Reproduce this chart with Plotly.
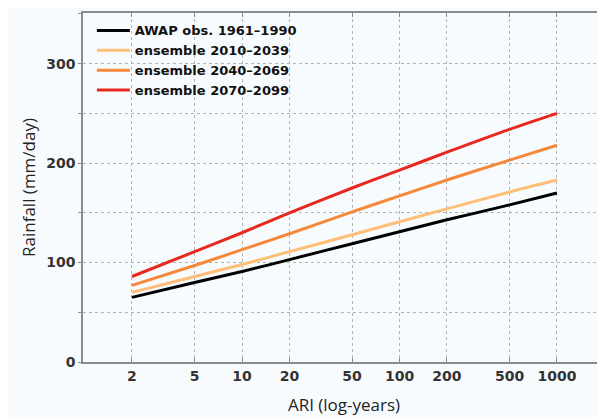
import plotly.graph_objects as go

ari = [2, 5, 10, 20, 50, 100, 200, 500, 1000]
awap_obs = [65, 80, 91, 103, 119, 131, 143, 158, 170]
ens_2010_2039 = [70, 86, 98, 111, 128, 141, 154, 171, 183]
ens_2040_2069 = [77, 97, 113, 129, 151, 167, 183, 203, 218]
ens_2070_2099 = [86, 111, 130, 150, 175, 193, 211, 234, 250]

series_names = ["AWAP obs. 1961\u20131990", "ensemble 2010\u20132039",
                "ensemble 2040\u20132069", "ensemble 2070\u20132099"]
series_values = [awap_obs, ens_2010_2039, ens_2040_2069, ens_2070_2099]
series_colors = ["#000000", "#fdbf78", "#f4883b", "#e8281e"]

x_ticks = [2, 5, 10, 20, 50, 100, 200, 500, 1000]
y_ticks = [0, 100, 200, 300]

fig = go.Figure()
for name, vals, col in zip(series_names, series_values, series_colors):
    fig.add_trace(go.Scatter(x=ari, y=vals, mode="lines", name=name,
                             line=dict(color=col, width=3, shape="spline", smoothing=0.8)))

bg = "#f8fbfd"
fnt = "DejaVu Sans, sans-serif"
fig.update_layout(
    width=605, height=417,
    margin=dict(l=75, r=8, t=5, b=63, autoexpand=False),
    paper_bgcolor=bg, plot_bgcolor=bg,
    font=dict(family=fnt, color="#222222"),
    showlegend=True,
    legend=dict(x=0.017, y=0.993, xanchor="left", yanchor="top",
                bgcolor="rgba(0,0,0,0)",
                font=dict(size=13, color="#111111", family=fnt, weight="bold"),
                tracegroupgap=0, itemwidth=33),
)
fig.update_xaxes(
    type="log", range=[-0.01, 3.305], automargin=False,
    tickvals=x_ticks, ticktext=[str(v) for v in x_ticks],
    tickfont=dict(size=14, color="#333333", family=fnt, weight="bold"),
    showline=True, linecolor="#8a8a8a", linewidth=1.5, mirror="ticks",
    ticks="inside", ticklen=4, tickcolor="#8a8a8a",
    showgrid=True, gridcolor="#b5b5b5", griddash="dot", gridwidth=1,
    zeroline=False,
    title=dict(text="ARI (log-years)", font=dict(size=17, family="Open Sans, sans-serif", color="#222222"), standoff=17),
)
fig.update_yaxes(
    range=[0, 351], automargin=False,
    tickvals=y_ticks, ticktext=[str(v) for v in y_ticks],
    tickfont=dict(size=14, color="#333333", family=fnt, weight="bold"),
    showline=True, linecolor="#8a8a8a", linewidth=1.5, mirror=False,
    ticks="outside", ticklen=3, tickcolor="#8a8a8a",
    showgrid=True, gridcolor="#b5b5b5", griddash="dot", gridwidth=1,
    minor=dict(dtick=50, showgrid=True, gridcolor="#b5b5b5", griddash="dot", ticks="outside", ticklen=3, tickcolor="#8a8a8a"),
    zeroline=False,
    title=dict(text="Rainfall (mm/day)", font=dict(size=17, family="Open Sans, sans-serif", color="#222222"), standoff=6),
)
fig.write_html("out.html")
